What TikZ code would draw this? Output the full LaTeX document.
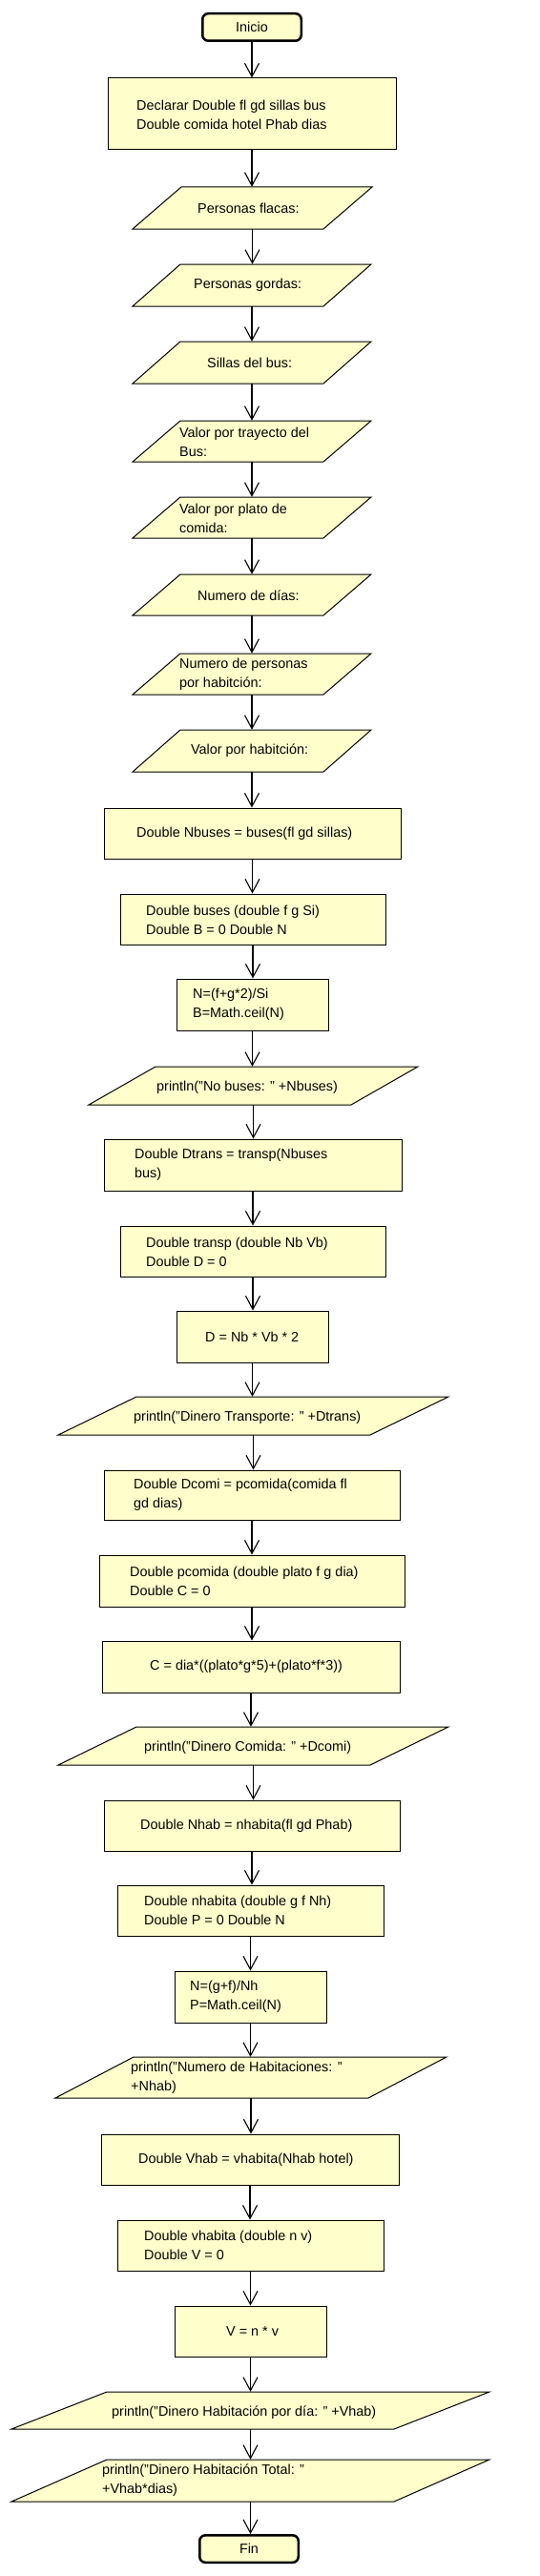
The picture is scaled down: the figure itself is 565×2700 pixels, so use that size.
\documentclass[tikz,border=0pt]{standalone}
\usepackage{fontspec}
\setmainfont{Liberation Sans}[Ligatures={TeX,NoCommon}]
\usetikzlibrary{arrows.meta}
\definecolor{fillc}{HTML}{FFFFCC}
\tikzset{
  box/.style={draw=black, fill=fillc, line width=1pt, inner sep=0pt},
  pgr/.style={draw=black, fill=fillc, line width=1pt},
  term/.style={draw=black, fill=fillc, line width=2.5pt, rounded corners=6pt, inner sep=0pt,
    font=\fontsize{14.4}{20}\selectfont},
  lbl/.style={anchor=west, inner sep=0pt, align=left, font=\fontsize{14.4}{20}\selectfont},
  arr/.style={-{Straight Barb[length=14pt,width=15pt]}, line width=1.1pt},
}
\newcommand{\myrect}[5]{%
  \node[box, minimum width={(#3-#2)*1pt}, minimum height={(#5-#4)*1pt}] (#1) at ({(#2+#3)/2},{(#4+#5)/2}) {};}
\newcommand{\mypgram}[6]{%
  \filldraw[pgr] (#2,#6) -- ({#2+#4},#6) -- ({#3+#4},#5) -- (#3,#5) -- cycle;
  \node[inner sep=0pt, minimum width={#4*1pt}, minimum height={(#6-#5)*1pt}] (#1) at ({(#2+#3+#4)/2},{(#5+#6)/2}) {};}
\newcommand{\mytxt}[4]{\node[lbl] (#1) at (#2,#3) {#4};}
\begin{document}
\begin{tikzpicture}[x=1pt,y=-1pt]
\useasboundingbox (0,0) rectangle (565,2700);
% terminals
\node[term, minimum width=103.5pt, minimum height=28.5pt] (inicio) at (264,28.5) {Inicio};
\node[term, minimum width=103.5pt, minimum height=28.5pt] (fin) at (261,2671.5) {Fin};
% process boxes
\myrect{decl}{113}{415}{82}{157}
\myrect{nbuses}{109}{420}{847}{900}
\myrect{buses}{126}{404}{937}{990}
\myrect{ncalc}{185}{344}{1026}{1080}
\myrect{dtrans}{109}{421}{1194}{1248}
\myrect{transp}{126}{404}{1285}{1338}
\myrect{dcalc}{185}{344}{1374}{1428}
\myrect{dcomi}{109}{419}{1541}{1593}
\myrect{pcomida}{104}{424}{1630}{1684}
\myrect{ccalc}{107}{419}{1720}{1774}
\myrect{nhab}{109}{419}{1887}{1940}
\myrect{nhabita}{123}{402}{1976}{2029}
\myrect{pcalc}{183}{342}{2066}{2120}
\myrect{vhab}{106}{418}{2237}{2290}
\myrect{vhabita}{123}{402}{2327}{2380}
\myrect{vcalc}{183}{342}{2417}{2470}
% input / output
\mypgram{p1}{139}{190}{200}{196}{240}
\mypgram{p2}{139}{189}{200}{277}{321}
\mypgram{p3}{139}{189}{200}{358}{402}
\mypgram{p4}{139}{189}{200}{441}{484}
\mypgram{p5}{139}{189}{200}{521}{564}
\mypgram{p6}{139}{189}{200}{602}{645}
\mypgram{p7}{139}{189}{200}{685}{728}
\mypgram{p8}{139}{189}{200}{765}{809}
\mypgram{o1}{93}{163}{275}{1118}{1158}
\mypgram{o2}{61}{143}{327}{1464}{1504}
\mypgram{o3}{61}{143}{327}{1810}{1850}
\mypgram{o4}{58}{140}{328}{2156}{2199}
\mypgram{o5}{12}{112}{401}{2507}{2546}
\mypgram{o6}{12}{112}{401}{2578}{2622}
% texts
\mytxt{tdecl}{143}{120}{Declarar Double fl gd sillas bus\\Double comida hotel Phab dias}
\mytxt{tp1}{207}{218}{Personas flacas:}
\mytxt{tp2}{203}{299}{Personas gordas:}
\mytxt{tp3}{217}{380}{Sillas del bus:}
\mytxt{tp4}{188}{463}{Valor por trayecto del\\Bus:}
\mytxt{tp5}{188}{543}{Valor por plato de\\comida:}
\mytxt{tp6}{207}{624}{Numero de días:}
\mytxt{tp7}{188}{707}{Numero de personas\\por habitción:}
\mytxt{tp8}{200}{787}{Valor por habitción:}
\mytxt{tnbuses}{143}{874}{Double Nbuses = buses(fl gd sillas)}
\mytxt{tbuses}{153}{964}{Double buses (double f g Si)\\Double B = 0 Double N}
\mytxt{tncalc}{202}{1053}{N=(f+g*2)/Si\\B=Math.ceil(N)}
\mytxt{to1}{164}{1140}{println("No buses: " +Nbuses)}
\mytxt{tdtrans}{141}{1221}{Double Dtrans = transp(Nbuses\\bus)}
\mytxt{ttransp}{153}{1312}{Double transp (double Nb Vb)\\Double D = 0}
\mytxt{tdcalc}{215}{1401}{D = Nb * Vb * 2}
\mytxt{to2}{140}{1486}{println("Dinero Transporte: " +Dtrans)}
\mytxt{tdcomi}{140}{1567}{Double Dcomi = pcomida(comida fl\\gd dias)}
\mytxt{tpcomida}{136}{1657}{Double pcomida (double plato f g dia)\\Double C = 0}
\mytxt{tccalc}{157}{1747}{C = dia*((plato*g*5)+(plato*f*3))}
\mytxt{to3}{151}{1832}{println("Dinero Comida: " +Dcomi)}
\mytxt{tnhab}{147}{1914}{Double Nhab = nhabita(fl gd Phab)}
\mytxt{tnhabita}{151}{2002}{Double nhabita (double g f Nh)\\Double P = 0 Double N}
\mytxt{tpcalc}{199}{2093}{N=(g+f)/Nh\\P=Math.ceil(N)}
\mytxt{to4}{137}{2178}{println("Numero de Habitaciones: "\\+Nhab)}
\mytxt{tvhab}{145}{2264}{Double Vhab = vhabita(Nhab hotel)}
\mytxt{tvhabita}{151}{2353}{Double vhabita (double n v)\\Double V = 0}
\mytxt{tvcalc}{237}{2444}{V = n * v}
\mytxt{to5}{117}{2529}{println("Dinero Habitación por día: " +Vhab)}
\mytxt{to6}{107}{2600}{println("Dinero Habitación Total: "\\+Vhab*dias)}
% connectors
\foreach \a/\b in {inicio/decl, decl/p1, p1/p2, p2/p3, p3/p4, p4/p5, p5/p6, p6/p7, p7/p8, p8/nbuses,
  nbuses/buses, buses/ncalc, ncalc/o1, o1/dtrans, dtrans/transp, transp/dcalc, dcalc/o2, o2/dcomi,
  dcomi/pcomida, pcomida/ccalc, ccalc/o3, o3/nhab, nhab/nhabita, nhabita/pcalc, pcalc/o4, o4/vhab,
  vhab/vhabita, vhabita/vcalc, vcalc/o5, o5/o6, o6/fin}
  \draw[arr] (\a.south) -- (\a.south |- \b.north);
\end{tikzpicture}
\end{document}
